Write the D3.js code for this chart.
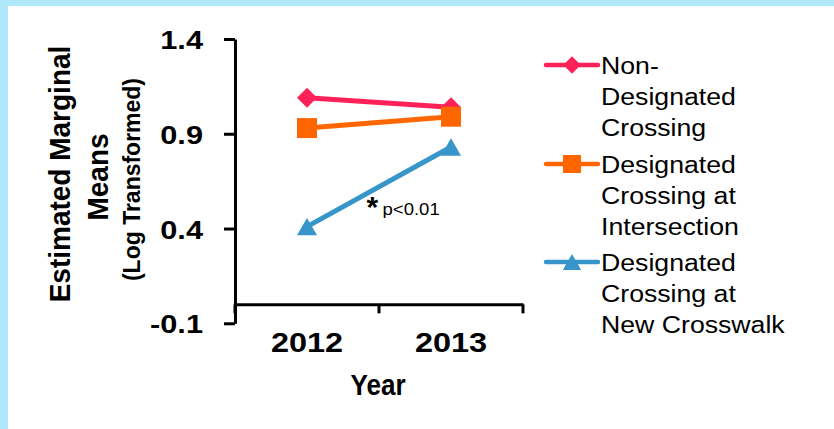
<!DOCTYPE html>
<html>
<head>
<meta charset="utf-8">
<script src="https://cdn.jsdelivr.net/npm/d3@7"></script>
<style>
  body { margin: 0; background: #fff; }
  svg { display: block; }
  text { font-family: "Liberation Sans", Arial, sans-serif; fill: #000; }
</style>
</head>
<body>
<script>
// Survey years on the x axis
const years = ["2012", "2013"];

// Estimated marginal means (log transformed) per crossing type
const nonDesignated = [1.09, 1.04];
const designatedIntersection = [0.93, 0.99];
const designatedNewCrosswalk = [0.41, 0.83];

// Legend labels, one line per entry row
const labelNonDesignated = ["Non-", "Designated", "Crossing"];
const labelIntersection = ["Designated", "Crossing at", "Intersection"];
const labelNewCrosswalk = ["Designated", "Crossing at", "New Crosswalk"];

// Y axis tick values
const yTicks = [-0.1, 0.4, 0.9, 1.4];

const W = 834, H = 429;
const SX = 1.16; // horizontal stretch of the lettering

// Triangle centred on its bounding box
const triangleBox = {
  draw(ctx, size) {
    const s = Math.sqrt(size * 4 / Math.sqrt(3));
    const h = s * Math.sqrt(3) / 2;
    ctx.moveTo(0, -h / 2);
    ctx.lineTo(s / 2, h / 2);
    ctx.lineTo(-s / 2, h / 2);
    ctx.closePath();
  }
};

const series = [
  { values: nonDesignated, label: labelNonDesignated, color: "#ff2157",
    shape: d3.symbolSquare, size: 200, legendSize: 150, rotate: 45 },
  { values: designatedIntersection, label: labelIntersection, color: "#ff6600",
    shape: d3.symbolSquare, size: 400, legendSize: 324, rotate: 0 },
  { values: designatedNewCrosswalk, label: labelNewCrosswalk, color: "#3795c9",
    shape: triangleBox, size: 175, legendSize: 145, rotate: 0 }
];

const svg = d3.select("body").append("svg")
  .attr("width", W).attr("height", H);

// Frame: light blue band on the top and left edges
svg.append("rect").attr("width", W).attr("height", H).attr("fill", "#aee8f9");
svg.append("rect").attr("x", 8).attr("y", 6).attr("width", W - 8).attr("height", H - 6).attr("fill", "#fff");

const y = d3.scaleLinear().domain([-0.1, 1.4]).range([323.3, 39]);
const xBand = d3.scaleBand().domain(years).range([235, 523]).padding(0);
const x = d => xBand(d) + xBand.bandwidth() / 2;

// Y axis
const yAxis = svg.append("g")
  .attr("transform", "translate(235,0)")
  .call(d3.axisLeft(y).tickValues(yTicks).tickSize(11).tickSizeOuter(0)
    .tickFormat(d => d.toFixed(1)));
yAxis.select(".domain").attr("stroke", "#000").attr("stroke-width", 3);
yAxis.selectAll(".tick line").attr("stroke", "#000").attr("stroke-width", 3);
yAxis.selectAll(".tick text")
  .attr("x", null).attr("dy", null)
  .attr("transform", `translate(-32,9.5) scale(${SX},1)`)
  .attr("font-size", 26.5).attr("font-weight", "bold")
  .attr("font-family", "Liberation Sans, Arial, sans-serif")
  .attr("fill", "#000");

// X axis, crossing at zero
const xAxis = svg.append("g")
  .attr("transform", `translate(0,${y(0)})`)
  .call(d3.axisBottom(xBand).tickSize(0).tickSizeOuter(0));
xAxis.select(".domain").attr("stroke", "#000").attr("stroke-width", 3);
xAxis.selectAll(".tick text")
  .attr("y", null).attr("dy", null)
  .attr("transform", `translate(0,48) scale(${SX},1)`)
  .attr("font-size", 28).attr("font-weight", "bold")
  .attr("font-family", "Liberation Sans, Arial, sans-serif")
  .attr("fill", "#000");
// Category boundary ticks
const bounds = years.map(d => xBand(d)).concat([xBand.range()[1]]);
xAxis.selectAll("line.bound").data(bounds).join("line")
  .attr("class", "bound")
  .attr("x1", d => d).attr("x2", d => d)
  .attr("y1", 0).attr("y2", 9)
  .attr("stroke", "#000").attr("stroke-width", 3);

// Axis titles
svg.append("text")
  .attr("transform", `translate(378,395) scale(0.9,1)`)
  .attr("text-anchor", "middle")
  .attr("font-size", 29).attr("font-weight", "bold")
  .text("Year");

const yTitle = [
  { text: "Estimated Marginal", x: 70, cy: 174, size: 28 },
  { text: "Means", x: 108, cy: 177, size: 28 },
  { text: "(Log Transformed)", x: 139.5, cy: 179.5, size: 23 }
];
svg.selectAll("text.ytitle").data(yTitle).join("text")
  .attr("class", "ytitle")
  .attr("transform", d => `translate(${d.x},${d.cy}) scale(1.06,1) rotate(-90)`)
  .attr("text-anchor", "middle")
  .attr("font-size", d => d.size).attr("font-weight", "bold")
  .text(d => d.text);

// Series lines and markers
const line = d3.line().x((d, i) => x(years[i])).y(d => y(d));
series.forEach(s => {
  svg.append("path")
    .attr("d", line(s.values))
    .attr("fill", "none")
    .attr("stroke", s.color)
    .attr("stroke-width", 5);
  svg.selectAll(null).data(s.values).join("path")
    .attr("d", d3.symbol().type(s.shape).size(s.size))
    .attr("transform", (d, i) => `translate(${x(years[i])},${y(d)}) rotate(${s.rotate})`)
    .attr("fill", s.color);
});

// Significance note on the new crosswalk change
svg.append("text")
  .attr("x", 366.5).attr("y", 217)
  .attr("font-size", 30).attr("font-weight", "bold")
  .text("*");
svg.append("text")
  .attr("transform", `translate(382.5,215) scale(${SX},1)`)
  .attr("font-size", 16)
  .text("p<0.01");

// Legend
const legendY = [65, 164, 262];
series.forEach((s, i) => {
  const g = svg.append("g").attr("transform", `translate(0,${legendY[i]})`);
  g.append("line")
    .attr("x1", 546).attr("x2", 598)
    .attr("stroke", s.color).attr("stroke-width", 4.5)
    .attr("stroke-linecap", "round");
  g.append("path")
    .attr("d", d3.symbol().type(s.shape).size(s.legendSize))
    .attr("transform", `translate(572,0) rotate(${s.rotate})`)
    .attr("fill", s.color);
  s.label.forEach((t, j) => {
    g.append("text")
      .attr("transform", `translate(601,${9 + j * 31}) scale(${SX},1)`)
      .attr("font-size", 23)
      .text(t);
  });
});
</script>
</body>
</html>
